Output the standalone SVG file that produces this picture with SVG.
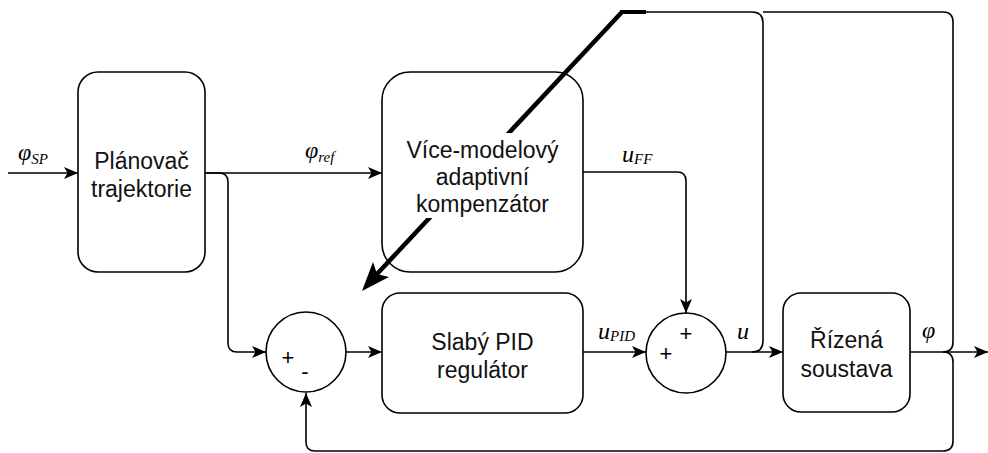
<svg xmlns="http://www.w3.org/2000/svg" width="988" height="453" viewBox="0 0 988 453">
  <style>
    .box { fill: #ffffff; stroke: #000000; stroke-width: 1.6; }
    .wire { fill: none; stroke: #000000; stroke-width: 1.6; }
    .lbl { font-family: "Liberation Sans", Arial, sans-serif; font-size: 23px; fill: #111111; text-anchor: middle; }
    .sign { font-family: "Liberation Sans", Arial, sans-serif; font-size: 22px; fill: #000000; text-anchor: middle; }
    .math { font-family: "Liberation Serif", "Times New Roman", serif; font-style: italic; font-size: 24px; fill: #000000; }
    .sub { font-size: 15px; }
  </style>
  <defs>
    <marker id="arrow" viewBox="0 0 14 12" refX="14" refY="6" markerWidth="14" markerHeight="12" orient="auto" markerUnits="userSpaceOnUse">
      <path d="M0,0 L14,6 L0,12 L3.5,6 Z" fill="#000000"/>
    </marker>
  </defs>

  <rect width="988" height="453" fill="#ffffff"/>

  <!-- trajectory planner -->
  <g id="planner">
    <rect class="box" x="78" y="72" width="127" height="200" rx="20" ry="20"/>
    <text class="lbl" x="141.5" y="169">Plánovač</text>
    <text class="lbl" x="141.5" y="197">trajektorie</text>
  </g>

  <!-- multi-model adaptive compensator -->
  <g id="compensator">
    <rect class="box" x="382" y="72" width="201" height="200" rx="28" ry="28"/>
  </g>

  <!-- adaptation arrow (thick) -->
  <g id="adaptation">
    <line x1="620" y1="12" x2="646" y2="12" stroke="#000000" stroke-width="4"/>
    <line x1="622" y1="12" x2="377" y2="274" stroke="#000000" stroke-width="4.5"/>
    <polygon points="362,291 373,262 377,274 389,277" fill="#000000"/>
  </g>

  <g id="compensator-label">
    <rect x="400" y="133" width="166" height="85" fill="#ffffff"/>
    <text class="lbl" x="482.5" y="158">Více-modelový</text>
    <text class="lbl" x="482.5" y="185">adaptivní</text>
    <text class="lbl" x="482.5" y="212">kompenzátor</text>
  </g>

  <!-- error summing junction -->
  <g id="sum-error">
    <circle class="box" cx="306" cy="352" r="40"/>
    <text class="sign" x="288" y="365">+</text>
    <text class="sign" x="305" y="379">-</text>
  </g>

  <!-- weak PID controller -->
  <g id="pid">
    <rect class="box" x="382" y="293" width="201" height="120" rx="18" ry="18"/>
    <text class="lbl" x="482.5" y="350">Slabý PID</text>
    <text class="lbl" x="482.5" y="378">regulátor</text>
  </g>

  <!-- control summing junction -->
  <g id="sum-control">
    <circle class="box" cx="686" cy="353" r="40"/>
    <text class="sign" x="686" y="341">+</text>
    <text class="sign" x="666" y="361">+</text>
  </g>

  <!-- controlled plant -->
  <g id="plant">
    <rect class="box" x="783" y="293" width="127" height="119" rx="18" ry="18"/>
    <text class="lbl" x="846.5" y="348">Řízená</text>
    <text class="lbl" x="846.5" y="377">soustava</text>
  </g>

  <!-- signal lines -->
  <g id="connectors">
    <path class="wire" d="M8,173 H78" marker-end="url(#arrow)"/>
    <path class="wire" d="M205,173 H382" marker-end="url(#arrow)"/>
    <path class="wire" d="M205,173 H219 Q228,173 228,182 V343 Q228,352 237,352 H266" marker-end="url(#arrow)"/>
    <path class="wire" d="M346,352 H382" marker-end="url(#arrow)"/>
    <path class="wire" d="M583,352 H646" marker-end="url(#arrow)"/>
    <path class="wire" d="M583,172 H677 Q686,172 686,181 V313" marker-end="url(#arrow)"/>
    <path class="wire" d="M726,352 H783" marker-end="url(#arrow)"/>
    <path class="wire" d="M752,352 Q763,352 763,341 V23 Q763,12 752,12 H646"/>
    <path class="wire" d="M910,352 H988" marker-end="url(#arrow)"/>
    <path class="wire" d="M943,352 Q953,352 953,342 V22 Q953,12 943,12 H763"/>
    <path class="wire" d="M943,352 Q953,352 953,362 V441 Q953,451 943,451 H315 Q306,451 306,442 V393" marker-end="url(#arrow)"/>
  </g>

  <!-- signal labels -->
  <g id="labels">
    <text class="math" x="18" y="160">φ<tspan class="sub" dy="4">SP</tspan></text>
    <text class="math" x="305" y="158">φ<tspan class="sub" dy="4">ref</tspan></text>
    <text class="math" x="622" y="162">u<tspan class="sub" dy="2">FF</tspan></text>
    <text class="math" x="598" y="339">u<tspan class="sub" dy="2">PID</tspan></text>
    <text class="math" x="737" y="339">u</text>
    <text class="math" x="922" y="338">φ</text>
  </g>
</svg>
